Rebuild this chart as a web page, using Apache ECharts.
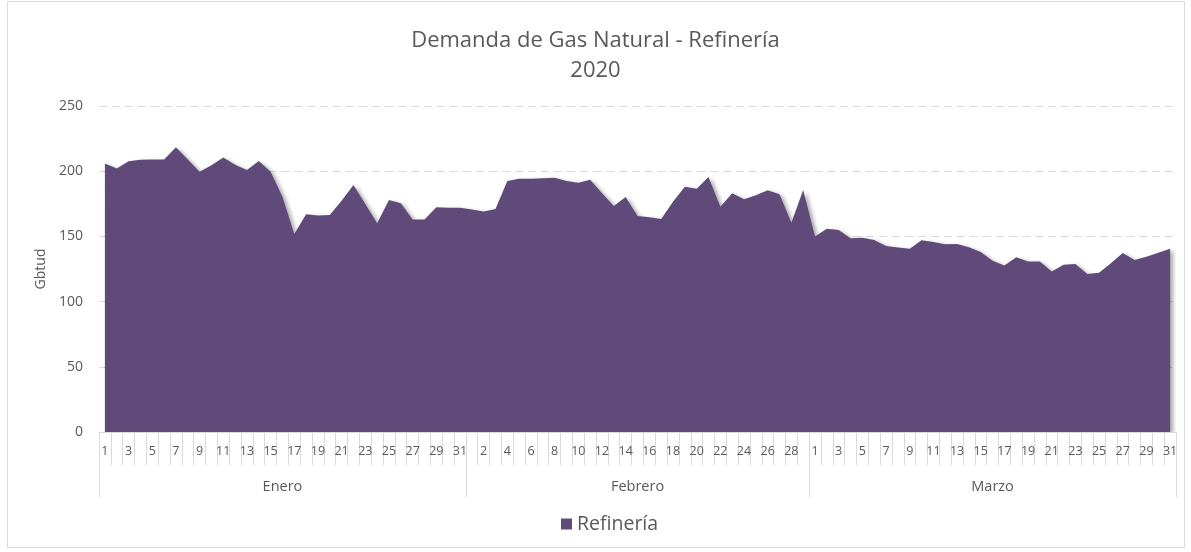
<!DOCTYPE html>
<html>
<head>
<meta charset="utf-8">
<title>Demanda de Gas Natural - Refinería 2020</title>
<script src="https://cdn.jsdelivr.net/npm/echarts@6/dist/echarts.min.js"></script>
<style>
  html, body { margin: 0; padding: 0; background: #fff; }
  #chart { width: 1191px; height: 552px; }
</style>
</head>
<body>
<div id="chart"></div>
<script>
// valores diarios (Gbtud)
const enero = [206, 202, 207.6, 208.8, 209, 209, 218.3, 209, 199.6, 204.5, 210.6, 205, 201, 207.8, 199.6, 180.5,
  151.8, 167, 166, 166.5, 177.4, 189.4, 174.8, 160, 178, 175.4, 163, 163, 172.3, 172, 172];
const febrero = [170.7, 169, 171, 192.5, 194.3, 194.3, 194.5, 195, 192.5, 191.2, 193.5, 183, 173.3, 180.2, 165.6,
  164.6, 163.3, 176.6, 188, 186.6, 195.5, 172.8, 183, 178.4, 181.5, 185.3, 182.3, 160.5, 185.6];
const marzo = [150, 155.9, 154.9, 148.5, 149, 147.2, 142.6, 141.4, 140.6, 147, 145.7, 143.9, 144.2, 141.6, 138,
  131.4, 127.7, 134, 130.7, 130.7, 123, 128.3, 128.8, 121.2, 122.2, 129.4, 137.3, 131.9, 134.4, 137.5, 140.6];
const meses = ['Enero', 'Febrero', 'Marzo'];
const yTicks = [0, 50, 100, 150, 200, 250];

const porMes = [enero, febrero, marzo];
let dias = [];       // etiqueta de día por categoría
let mesLabels = [];  // nombre del mes solo en la categoría central
let inicioMes = [];  // índice donde empieza cada mes
let valores = [];
porMes.forEach(function (arr, m) {
  inicioMes.push(dias.length);
  let centro = dias.length + Math.floor(arr.length / 2);
  arr.forEach(function (v, d) {
    mesLabels.push(dias.length === centro ? meses[m] : '');
    dias.push(String(d + 1));
    valores.push(v);
  });
});

const gris = '#595959';
const linea = '#d9d9d9';
const fuente = '"Open Sans", "Noto Sans", sans-serif';

let chart = echarts.init(document.getElementById('chart'));
chart.setOption({
  animation: false,
  textStyle: { fontFamily: fuente },
  title: {
    text: 'Demanda de Gas Natural - Refinería\n2020',
    left: 'center',
    top: 21,
    textStyle: { color: gris, fontSize: 22, fontWeight: 'normal', lineHeight: 30, fontFamily: fuente }
  },
  graphic: [{
    type: 'rect',
    shape: { x: 7.5, y: 1.5, width: 1177, height: 546 },
    style: { fill: 'none', stroke: linea, lineWidth: 1 },
    silent: true
  }],
  legend: {
    bottom: 13,
    left: 556,
    icon: 'rect',
    itemWidth: 11,
    itemHeight: 11,
    itemGap: 10,
    textStyle: { color: gris, fontSize: 19.5, fontFamily: fuente },
    data: ['Refinería']
  },
  grid: { left: 99, right: 15, top: 106, bottom: 120 },
  xAxis: [{
    type: 'category',
    data: dias,
    boundaryGap: true,
    position: 'bottom',
    axisLine: { show: true, lineStyle: { color: linea, width: 1 } },
    axisTick: { show: true, interval: 0, length: 33, lineStyle: { color: linea } },
    axisLabel: { interval: 1, color: gris, fontSize: 12.5, margin: 13, fontFamily: fuente }
  }, {
    type: 'category',
    data: mesLabels,
    boundaryGap: true,
    position: 'bottom',
    axisLine: { show: false },
    axisTick: {
      show: true,
      length: 65,
      lineStyle: { color: linea },
      interval: function (idx) { return inicioMes.indexOf(idx) >= 0; }
    },
    axisLabel: { interval: 0, color: gris, fontSize: 14.5, margin: 47, fontFamily: fuente }
  }],
  yAxis: {
    type: 'value',
    min: yTicks[0],
    max: yTicks[yTicks.length - 1],
    interval: yTicks[1] - yTicks[0],
    name: 'Gbtud',
    nameLocation: 'middle',
    nameGap: 50,
    nameTextStyle: { color: gris, fontSize: 14, fontFamily: fuente },
    axisLine: { show: false },
    axisTick: { show: false },
    axisLabel: { color: gris, fontSize: 14, margin: 16, fontFamily: fuente },
    splitLine: { show: true, lineStyle: { color: linea, type: [8, 5], width: 1 } }
  },
  series: [{
    name: 'Refinería',
    type: 'line',
    data: valores,
    xAxisIndex: 0,
    symbol: 'none',
    itemStyle: { color: '#5f4a7a' },
    lineStyle: { width: 0, color: '#5f4a7a' },
    areaStyle: {
      color: '#5f4a7a',
      opacity: 1,
      shadowBlur: 4,
      shadowOffsetX: 3,
      shadowOffsetY: 2,
      shadowColor: 'rgba(0,0,0,0.35)'
    },
    z: 3
  }]
});
</script>
</body>
</html>
